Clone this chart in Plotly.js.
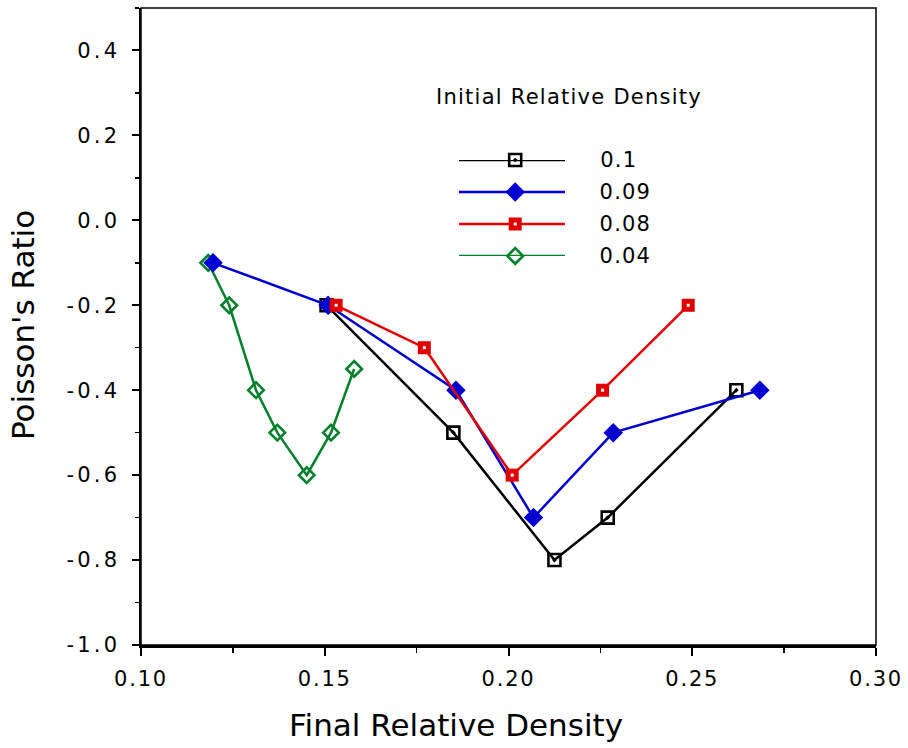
<!DOCTYPE html>
<html>
<head>
<meta charset="utf-8">
<script src="https://cdn.plot.ly/plotly-3.0.1.min.js"></script>
<style>
html,body{margin:0;padding:0;background:#fff;}
#chart{width:908px;height:748px;}
.xtick text{letter-spacing:1.8px;}
.ytick text{letter-spacing:3.2px;}
</style>
</head>
<body>
<div id="chart"></div>
<script>
// ---- data ----
const seriesNames = ['0.1', '0.09', '0.08', '0.04'];

const x_01  = [0.1505, 0.1850, 0.2125, 0.2270, 0.2620];
const y_01  = [-0.2, -0.5, -0.8, -0.7, -0.4];

const x_009 = [0.1196, 0.1509, 0.1857, 0.2068, 0.2285, 0.2684];
const y_009 = [-0.1, -0.2, -0.4, -0.7, -0.5, -0.4];

const x_008 = [0.1531, 0.1771, 0.2010, 0.2256, 0.2489];
const y_008 = [-0.2, -0.3, -0.6, -0.4, -0.2];

const x_004 = [0.1183, 0.1240, 0.1313, 0.1371, 0.1451, 0.1517, 0.1580];
const y_004 = [-0.1, -0.2, -0.4, -0.5, -0.6, -0.5, -0.35];

const yTickVals   = [-1.0, -0.8, -0.6, -0.4, -0.2, 0.0, 0.2, 0.4];
const yTickLabels = ['-1.0', '-0.8', '-0.6', '-0.4', '-0.2', '0.0', '0.2', '0.4'];
const xTickVals   = [0.10, 0.15, 0.20, 0.25, 0.30];
const xTickLabels = ['0.10', '0.15', '0.20', '0.25', '0.30'];

const legendTitle = 'Initial Relative Density';
const xTitle = 'Final Relative Density';
const yTitle = "Poisson's Ratio";

// ---- styles ----
const FONT = 'DejaVu Sans, Verdana, sans-serif';
const styles = [
  {color:'#000000', marker:{symbol:'square-open-dot', size:12, color:'#000000', line:{color:'#000000', width:2.6}}},
  {color:'#0000d0', marker:{symbol:'diamond', size:15, color:'#0000d0', line:{width:0}}},
  {color:'#e00000', marker:{symbol:'square', size:13, color:'#e00000', line:{width:0}}},
  {color:'#00802a', marker:{symbol:'diamond-open', size:12, color:'#00802a', line:{color:'#00802a', width:2.6}}}
];
const seriesX = [x_01, x_009, x_008, x_004];
const seriesY = [y_01, y_009, y_008, y_004];

const traces = [];
const order = [3, 0, 1, 2];
order.forEach(i => {
  traces.push({
    type:'scatter', mode:'lines+markers', name: seriesNames[i],
    x: seriesX[i], y: seriesY[i],
    line:{color: styles[i].color, width:2.5},
    marker: styles[i].marker,
    showlegend:false, hoverinfo:'skip', cliponaxis:false
  });
  if (i === 2) {
    traces.push({type:'scatter', mode:'markers', x: seriesX[i], y: seriesY[i],
      marker:{symbol:'square', size:3, color:'#ffffff', line:{width:0}},
      showlegend:false, hoverinfo:'skip', cliponaxis:false});
  }
});

// ---- hand-made legend in its own small axes ----
const annotations = [];
seriesNames.forEach((nm, i) => {
  traces.push({type:'scatter', mode:'lines', x:[0,1], y:[i,i], xaxis:'x2', yaxis:'y2',
    line:{color: styles[i].color, width:2.5}, showlegend:false, hoverinfo:'skip', cliponaxis:false});
  traces.push({type:'scatter', mode:'markers', x:[0.53], y:[i], xaxis:'x2', yaxis:'y2',
    marker: styles[i].marker, showlegend:false, hoverinfo:'skip', cliponaxis:false});
  if (i === 2) {
    traces.push({type:'scatter', mode:'markers', x:[0.53], y:[i], xaxis:'x2', yaxis:'y2',
      marker:{symbol:'square', size:3, color:'#ffffff', line:{width:0}},
      showlegend:false, hoverinfo:'skip', cliponaxis:false});
  }
  annotations.push({xref:'x2', yref:'y2', x:1.33, y:i, xanchor:'left', yanchor:'middle',
    text:nm, showarrow:false, font:{family:FONT, size:21, color:'#000'}});
});
annotations.push({xref:'paper', yref:'paper', x:0.5823, y:0.8603, xanchor:'center', yanchor:'middle',
  text:legendTitle, showarrow:false, font:{family:FONT, size:21, color:'#000'}});
annotations.push({xref:'paper', yref:'paper', x:0.4286, y:-0.1256, xanchor:'center', yanchor:'middle',
  text:xTitle, showarrow:false, font:{family:FONT, size:31, color:'#000'}});
annotations.push({xref:'paper', yref:'paper', x:-0.1605, y:0.5024, xanchor:'center', yanchor:'middle',
  text:yTitle, textangle:-90, showarrow:false, font:{family:FONT, size:31, color:'#000'}});

const layout = {
  width:908, height:748,
  margin:{l:141, r:32, t:8, b:103, pad:0},
  paper_bgcolor:'#ffffff', plot_bgcolor:'#ffffff',
  showlegend:false,
  xaxis:{
    range:[0.10, 0.30], tickmode:'array', tickvals:xTickVals, ticktext:xTickLabels,
    ticks:'outside', ticklen:8, tickwidth:2, tickcolor:'#000',
    minor:{dtick:0.025, tick0:0.1, ticks:'outside', ticklen:5, tickwidth:1.5, tickcolor:'#000'},
    showline:true, linecolor:'#000', linewidth:2.5, showgrid:false, zeroline:false,
    tickfont:{family:FONT, size:21, color:'#000'}, ticklabelstandoff:5, fixedrange:true
  },
  yaxis:{
    range:[-1.0, 0.5], tickmode:'array', tickvals:yTickVals, ticktext:yTickLabels,
    ticks:'outside', ticklen:7, tickwidth:2, tickcolor:'#000',
    minor:{dtick:0.1, tick0:-1, ticks:'outside', ticklen:4, tickwidth:1.5, tickcolor:'#000'},
    showline:true, linecolor:'#000', linewidth:2.5, showgrid:false, zeroline:false,
    tickfont:{family:FONT, size:21, color:'#000'}, ticklabelstandoff:7, fixedrange:true
  },
  xaxis2:{domain:[0.4327, 0.7605], range:[0, 2.2736], visible:false, anchor:'y2', fixedrange:true},
  yaxis2:{domain:[0.6107, 0.7614], range:[3,0], visible:false, anchor:'x2', fixedrange:true},
  shapes:[{type:'rect', xref:'paper', yref:'paper', x0:0, x1:1, y0:0, y1:1,
    line:{color:'#000', width:1.5}, layer:'below'}],
  annotations: annotations
};

Plotly.newPlot('chart', traces, layout, {displayModeBar:false, staticPlot:true}).then(() => {
  // slight letter tracking on the Verdana-like legend text, as in the reference
  document.querySelectorAll('g.annotation text.annotation-text').forEach(t => {
    const s = t.textContent;
    if (seriesNames.indexOf(s) >= 0) t.style.letterSpacing = '1.2px';
    else if (s === legendTitle) t.style.letterSpacing = '1.25px';
  });
});
</script>
</body>
</html>
